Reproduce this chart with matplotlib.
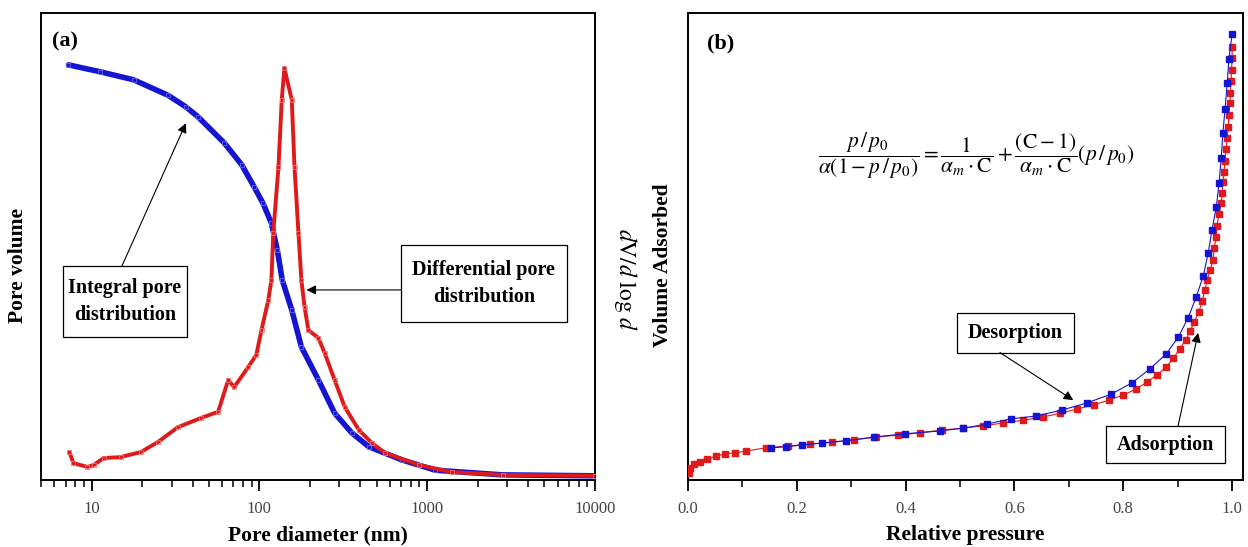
import matplotlib
matplotlib.use("Agg")
import matplotlib.pyplot as plt
from matplotlib.patches import Rectangle
from matplotlib.ticker import LogLocator, FixedLocator, MultipleLocator, NullFormatter, NullLocator

plt.rcParams['font.family'] = ['Liberation Serif', 'DejaVu Serif']
plt.rcParams['mathtext.fontset'] = 'stix'

# ---- (a) pore size distribution ----
integral_d = [7.28, 11.3, 17.8, 28.5, 36.5, 43.0, 61.7, 78.5, 93.3, 105, 118, 128,
              137, 156, 178, 225, 281, 355, 450, 708, 1117, 2812, 10000]
integral_v = [0.889, 0.874, 0.857, 0.824, 0.799, 0.778, 0.722, 0.675, 0.627, 0.593,
              0.550, 0.492, 0.428, 0.364, 0.285, 0.214, 0.143, 0.101, 0.071, 0.043,
              0.021, 0.011, 0.009]

diff_d = [7.38, 7.80, 9.46, 10.3, 11.8, 14.9, 19.7, 24.8, 32.7, 45.0, 56.8, 65.2,
          70.8, 85.9, 95.9, 103, 113, 118, 121, 130, 136, 141, 156, 162, 171, 178,
          186, 196, 225, 245, 281, 323, 392, 469, 561, 895, 1413, 2812, 10000]
diff_v = [0.060, 0.036, 0.028, 0.032, 0.047, 0.049, 0.060, 0.081, 0.113, 0.133,
          0.146, 0.214, 0.199, 0.242, 0.268, 0.321, 0.385, 0.428, 0.529, 0.670,
          0.814, 0.882, 0.814, 0.670, 0.529, 0.428, 0.370, 0.321, 0.304, 0.272,
          0.214, 0.156, 0.107, 0.079, 0.058, 0.032, 0.017, 0.011, 0.009]

diam_ticks = [10, 100, 1000, 10000]
diam_ticklabels = ['10', '100', '1000', '10000']

# ---- (b) nitrogen isotherm ----
ads_p = [0.002, 0.004, 0.011, 0.022, 0.035, 0.051, 0.068, 0.086, 0.107, 0.143,
         0.184, 0.224, 0.265, 0.305, 0.346, 0.386, 0.426,
         0.467, 0.506, 0.542, 0.579, 0.616, 0.653, 0.684, 0.715, 0.746, 0.774,
         0.800, 0.824, 0.844, 0.862, 0.879, 0.892, 0.904, 0.915, 0.923, 0.930,
         0.939, 0.945, 0.950, 0.954,
         0.960, 0.965, 0.967, 0.971, 0.972, 0.976, 0.980, 0.982, 0.983, 0.985,
         0.987, 0.989, 0.991, 0.993, 0.994, 0.996, 0.997, 0.998, 0.999, 1.000, 1.000]
ads_v = [0.015, 0.026, 0.034, 0.039, 0.045, 0.051, 0.056, 0.058, 0.062, 0.069,
         0.073, 0.077, 0.081, 0.086, 0.092, 0.096, 0.101,
         0.107, 0.111, 0.116, 0.122, 0.128, 0.135, 0.143, 0.152, 0.161, 0.171,
         0.182, 0.195, 0.210, 0.225, 0.242, 0.261, 0.281, 0.300, 0.319, 0.338,
         0.360, 0.383, 0.407, 0.428,
         0.450, 0.471, 0.497, 0.520, 0.544, 0.570, 0.593, 0.615, 0.638, 0.660,
         0.683, 0.709, 0.732, 0.756, 0.782, 0.807, 0.829, 0.854, 0.878, 0.904, 0.927]

des_p = [0.153, 0.180, 0.210, 0.246, 0.290, 0.342, 0.399, 0.463, 0.506, 0.550,
         0.594, 0.640, 0.688, 0.733, 0.778, 0.816, 0.849, 0.879, 0.901, 0.919,
         0.934, 0.947, 0.956, 0.963, 0.971, 0.976, 0.980, 0.983, 0.987, 0.991,
         0.994, 1.000]
des_v = [0.069, 0.071, 0.075, 0.079, 0.084, 0.092, 0.099, 0.105, 0.111, 0.120,
         0.131, 0.137, 0.150, 0.165, 0.184, 0.208, 0.238, 0.270, 0.306, 0.347,
         0.392, 0.437, 0.486, 0.535, 0.585, 0.636, 0.690, 0.743, 0.794, 0.850,
         0.901, 0.955]

pressure_ticks = [0.0, 0.2, 0.4, 0.6, 0.8, 1.0]

BLUE = '#1414d2'
RED = '#e01a1a'
TICK_COLOR = '#444444'

fig = plt.figure(figsize=(12.48, 5.47), dpi=100)
W, H = 1248, 547


def axes_px(x0, y0, x1, y1):
    return fig.add_axes([x0 / W, 1 - y1 / H, (x1 - x0) / W, (y1 - y0) / H])


def callout(ax, text, box, start, tip):
    """Boxed label (box in axes fractions x0, y0, x1, y1) with an arrow
    running from a point on the box edge to a data point."""
    x0, y0, x1, y1 = box
    ax.add_patch(Rectangle((x0, y0), x1 - x0, y1 - y0, transform=ax.transAxes,
                           fc='white', ec='black', lw=0.9, zorder=6))
    ax.text((x0 + x1) / 2, (y0 + y1) / 2, text, transform=ax.transAxes,
            ha='center', va='center', fontsize=14.5, fontweight='bold',
            linespacing=1.5, zorder=7)
    ax.annotate('', xy=tip, xycoords='data', xytext=start, textcoords='axes fraction',
                arrowprops=dict(arrowstyle='-|>', color='black', lw=0.8,
                                mutation_scale=14, shrinkA=0, shrinkB=0),
                zorder=7)


ax1 = axes_px(41, 13, 595, 480)
ax2 = axes_px(688, 13, 1243, 480)

for ax in (ax1, ax2):
    for s in ax.spines.values():
        s.set_linewidth(1.4)
        s.set_color('black')
    ax.yaxis.set_major_locator(NullLocator())
    ax.yaxis.set_minor_locator(NullLocator())
    ax.tick_params(axis='x', which='major', direction='out', length=8, width=1.3,
                   labelsize=12, labelcolor=TICK_COLOR, pad=7, top=False)
    ax.tick_params(axis='x', which='minor', direction='out', length=5, width=1.1,
                   top=False)

# panel (a)
ax1.plot(integral_d, integral_v, '-', color=BLUE, lw=4.0, zorder=2,
         solid_capstyle='round', solid_joinstyle='round')
ax1.plot(integral_d, integral_v, 's', ms=3, mfc='none', mec='#6a6af0', mew=0.6, zorder=3)
ax1.plot(diff_d, diff_v, '-', color=RED, lw=2.8, zorder=4,
         solid_capstyle='round', solid_joinstyle='round')
ax1.plot(diff_d, diff_v, 's', ms=3, mfc='none', mec='#f07070', mew=0.6, zorder=5)
ax1.set_xscale('log')
ax1.set_xlim(5, 10000)
ax1.set_ylim(0, 1)
ax1.xaxis.set_major_locator(FixedLocator(diam_ticks))
ax1.set_xticklabels(diam_ticklabels)
ax1.xaxis.set_minor_locator(LogLocator(base=10, subs=range(2, 10), numticks=20))
ax1.xaxis.set_minor_formatter(NullFormatter())

ax1.text(0.02, 0.94, '(a)', transform=ax1.transAxes, fontsize=16, fontweight='bold',
         va='center', ha='left')

callout(ax1, 'Integral pore\ndistribution', (0.0397, 0.306, 0.2635, 0.458),
        (0.146, 0.458), (36.5, 0.764))
callout(ax1, 'Differential pore\ndistribution', (0.650, 0.338, 0.949, 0.503),
        (0.650, 0.407), (191, 0.407))

ax1.set_xlabel('Pore diameter (nm)', fontsize=15.5, fontweight='bold', labelpad=6)
fig.text(18 / W, 1 - 265 / H, 'Pore volume', rotation=90, fontsize=15.5,
         fontweight='bold', ha='center', va='center')
fig.text(625 / W, 1 - 280 / H, r'$d\mathrm{V}/d\ \mathrm{log}\ d$', rotation=270,
         fontsize=17, ha='center', va='center')

# panel (b)
ax2.plot(ads_p, ads_v, '-', color=RED, lw=0.8, zorder=2)
ax2.plot(ads_p, ads_v, 's', ms=4.6, color=RED, mec=RED, zorder=3)
ax2.plot(des_p, des_v, '-', color=BLUE, lw=0.8, zorder=4)
ax2.plot(des_p, des_v, 's', ms=4.6, color=BLUE, mec=BLUE, zorder=5)
ax2.set_xlim(0, 1.02)
ax2.set_ylim(0, 1)
ax2.xaxis.set_major_locator(FixedLocator(pressure_ticks))
ax2.set_xticklabels([f'{t:.1f}' for t in pressure_ticks])
ax2.xaxis.set_minor_locator(MultipleLocator(0.1))

ax2.text(0.035, 0.935, '(b)', transform=ax2.transAxes, fontsize=16, fontweight='bold',
         va='center', ha='left')
ax2.text(0.52, 0.695,
         r'$\dfrac{p\,/\,p_0}{\alpha(1-p\,/\,p_0)}=\dfrac{1}{\alpha_m\cdot\mathrm{C}}'
         r'+\dfrac{(\mathrm{C}-1)}{\alpha_m\cdot\mathrm{C}}(p\,/\,p_0)$',
         transform=ax2.transAxes, fontsize=15.5, ha='center', va='center')

callout(ax2, 'Desorption', (0.4847, 0.2730, 0.6955, 0.3576),
        (0.562, 0.2730), (0.708, 0.171))
callout(ax2, 'Adsorption', (0.7532, 0.0364, 0.9676, 0.1156),
        (0.883, 0.1156), (0.9375, 0.315))

ax2.set_xlabel('Relative pressure', fontsize=15.5, fontweight='bold', labelpad=6)
fig.text(663 / W, 1 - 265 / H, 'Volume Adsorbed', rotation=90, fontsize=15.5,
         fontweight='bold', ha='center', va='center')

fig.savefig('out.png', dpi=100, facecolor='white')
